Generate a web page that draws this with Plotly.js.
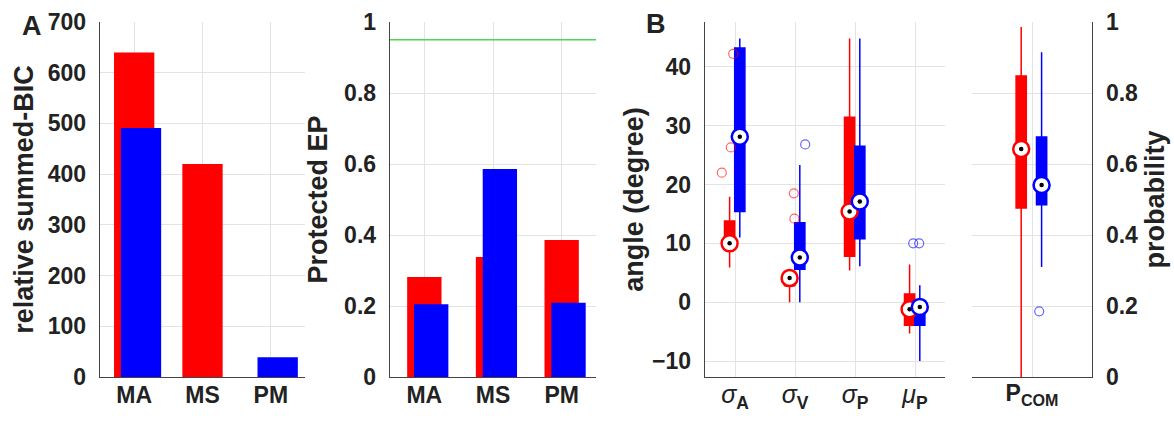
<!DOCTYPE html>
<html>
<head>
<meta charset="utf-8">
<script src="https://cdn.plot.ly/plotly-3.0.1.min.js"></script>
<style>html,body{margin:0;padding:0;background:#fff;}#chart{width:1174px;height:423px;}</style>
</head>
<body>
<div id="chart"></div>
<script>
// ---------- data ----------
const modelCats = ['MA', 'MS', 'PM'];
const bicRed = [640, 420, 0];
const bicBlue = [491, 0, 39];
const pepRed = [0.282, 0.338, 0.386];
const pepBlue = [0.205, 0.586, 0.209];
const pepThreshold = 0.95;

const angleLabels = ['<i>σ</i><sub><b>A</b></sub>', '<i>σ</i><sub><b>V</b></sub>', '<i>σ</i><sub><b>P</b></sub>', '<i>μ</i><sub><b>P</b></sub>'];
const angRedQ1 = [9.5, 2.8, 7.8, -3.9];
const angRedMed = [10.0, 4.1, 15.4, -1.2];
const angRedQ3 = [13.8, 5.2, 31.4, 1.4];
const angRedLo = [5.9, 0.0, 5.4, -5.3];
const angRedHi = [17.9, 5.5, 44.8, 6.4];
const angBlueQ1 = [15.4, 5.6, 10.8, -3.9];
const angBlueMed = [28.1, 7.6, 17.1, -0.8];
const angBlueQ3 = [43.2, 13.5, 26.5, 0.3];
const angBlueLo = [11.0, 0.0, 6.1, -10.0];
const angBlueHi = [44.8, 23.3, 44.8, 2.9];
// outliers: category index (0-based) and value
const angRedOutCat = [0, 0, 0, 1, 1];
const angRedOutVal = [22.0, 26.3, 42.2, 18.5, 14.2];
const angBlueOutCat = [1, 3, 3];
const angBlueOutVal = [26.8, 10.0, 10.0];

const comLabels = ['P<sub>COM</sub>'];
const comRedQ1 = [0.476], comRedMed = [0.642], comRedQ3 = [0.848], comRedLo = [0.0], comRedHi = [0.986];
const comBlueQ1 = [0.485], comBlueMed = [0.541], comBlueQ3 = [0.676], comBlueLo = [0.31], comBlueHi = [0.915];
const comBlueOutCat = [0];
const comBlueOutVal = [0.185];

// ---------- styling ----------
const RED = '#ff0000', BLUE = '#0000ff';
const FONT = 'Liberation Sans, Arial, Helvetica, sans-serif';
const TXT = '#222222';
const AX = '#444444';
const GRID = '#e3e3e3';
const redOff = -0.09, blueOff = 0.08;
// display jitter for outlier circles (MATLAB-like)
const angRedJit = [-0.13, 0.02, 0.06, 0.07, 0.08];
const angBlueJit = [0.09, -0.11, -0.01];
const comBlueJit = [-0.02];

const W = 1174, H = 423;
const yDom = [(H - 377) / H, (H - 22) / H];
const dom = (a, b) => [a / W, b / W];

const traces = [];

// Panel A1 bars
traces.push({type: 'bar', x: modelCats, y: bicRed, xaxis: 'x', yaxis: 'y', marker: {color: RED, line: {width: 0}}, width: 0.59, offset: -0.295, hoverinfo: 'skip'});
traces.push({type: 'bar', x: modelCats, y: bicBlue, xaxis: 'x', yaxis: 'y', marker: {color: BLUE, line: {width: 0}}, width: 0.59, offset: -0.195, hoverinfo: 'skip'});
// Panel A2 bars
traces.push({type: 'bar', x: modelCats, y: pepRed, xaxis: 'x2', yaxis: 'y2', marker: {color: RED, line: {width: 0}}, width: 0.5, offset: -0.25, hoverinfo: 'skip'});
traces.push({type: 'bar', x: modelCats, y: pepBlue, xaxis: 'x2', yaxis: 'y2', marker: {color: BLUE, line: {width: 0}}, width: 0.5, offset: -0.15, hoverinfo: 'skip'});

function boxSet(n, off, q1, med, q3, lo, hi, color, xa, ya, bw) {
  const xs = Array.from({length: n}, (_, i) => i + 1 + off);
  traces.push({type: 'box', x: xs, q1: q1, median: med, q3: q3, lowerfence: lo, upperfence: hi,
    xaxis: xa, yaxis: ya, width: bw, whiskerwidth: 0, fillcolor: color,
    line: {color: color, width: 1.5}, boxpoints: false, hoverinfo: 'skip'});
  return xs;
}
function medians(xs, med, color, xa, ya) {
  traces.push({type: 'scatter', mode: 'markers', x: xs, y: med, xaxis: xa, yaxis: ya,
    marker: {symbol: 'circle', size: 16, color: '#ffffff', line: {color: color, width: 2.5}}, hoverinfo: 'skip'});
  traces.push({type: 'scatter', mode: 'markers', x: xs, y: med, xaxis: xa, yaxis: ya,
    marker: {symbol: 'circle', size: 4.5, color: '#000000'}, hoverinfo: 'skip'});
}
function outliers(cat, val, off, jit, color, xa, ya) {
  const xs = cat.map((c, i) => c + 1 + off + jit[i]);
  traces.push({type: 'scatter', mode: 'markers', x: xs, y: val, xaxis: xa, yaxis: ya,
    marker: {symbol: 'circle-open', size: 9, color: color, opacity: 0.6, line: {width: 1.2}}, hoverinfo: 'skip'});
}

// Panel B1
const nA = angleLabels.length;
const xr1 = boxSet(nA, redOff, angRedQ1, angRedMed, angRedQ3, angRedLo, angRedHi, RED, 'x3', 'y3', 0.17);
const xb1 = boxSet(nA, blueOff, angBlueQ1, angBlueMed, angBlueQ3, angBlueLo, angBlueHi, BLUE, 'x3', 'y3', 0.17);
outliers(angRedOutCat, angRedOutVal, redOff, angRedJit, RED, 'x3', 'y3');
outliers(angBlueOutCat, angBlueOutVal, blueOff, angBlueJit, BLUE, 'x3', 'y3');
medians(xr1, angRedMed, RED, 'x3', 'y3');
medians(xb1, angBlueMed, BLUE, 'x3', 'y3');

// Panel B2
const xr2 = boxSet(1, redOff, comRedQ1, comRedMed, comRedQ3, comRedLo, comRedHi, RED, 'x4', 'y4', 0.085);
const xb2 = boxSet(1, blueOff, comBlueQ1, comBlueMed, comBlueQ3, comBlueLo, comBlueHi, BLUE, 'x4', 'y4', 0.085);
outliers(comBlueOutCat, comBlueOutVal, blueOff, comBlueJit, BLUE, 'x4', 'y4');
medians(xr2, comRedMed, RED, 'x4', 'y4');
medians(xb2, comBlueMed, BLUE, 'x4', 'y4');

const tickFont = {family: FONT, size: 23, color: TXT, weight: 'bold'};
const titleFont = {family: FONT, size: 27, color: TXT, weight: 'bold'};
const baseX = {showline: true, linecolor: AX, linewidth: 1.3, showgrid: true, gridcolor: GRID, gridwidth: 1,
  zeroline: false, ticks: '', tickfont: tickFont, ticklabelstandoff: -3, fixedrange: true};
const baseY = {showline: true, linecolor: AX, linewidth: 1.3, showgrid: true, gridcolor: GRID, gridwidth: 1,
  zeroline: false, ticks: '', tickfont: tickFont, ticklabelstandoff: 8, domain: yDom, fixedrange: true};

const layout = {
  width: W, height: H, margin: {l: 0, r: 0, t: 0, b: 0},
  paper_bgcolor: '#ffffff', plot_bgcolor: 'rgba(0,0,0,0)',
  showlegend: false, barmode: 'overlay', boxmode: 'overlay',
  xaxis: Object.assign({}, baseX, {domain: dom(100, 305), anchor: 'y', type: 'category', range: [-0.5, 2.5]}),
  yaxis: Object.assign({}, baseY, {anchor: 'x', range: [0, 700], tickvals: [0, 100, 200, 300, 400, 500, 600, 700],
    title: {text: 'relative summed-BIC', font: titleFont, standoff: 6}}),
  xaxis2: Object.assign({}, baseX, {domain: dom(390, 596), anchor: 'y2', type: 'category', range: [-0.5, 2.5]}),
  yaxis2: Object.assign({}, baseY, {anchor: 'x2', range: [0, 1], tickvals: [0, 0.2, 0.4, 0.6, 0.8, 1],
    ticktext: ['0', '0.2', '0.4', '0.6', '0.8', '1'],
    title: {text: 'Protected EP', font: titleFont, standoff: 8}}),
  xaxis3: Object.assign({}, baseX, {domain: dom(705, 945), anchor: 'y3', range: [0.5, 4.5],
    tickvals: [1, 2, 3, 4], ticktext: angleLabels, tickfont: {family: FONT, size: 25, color: TXT}, ticklabelstandoff: -5}),
  yaxis3: Object.assign({}, baseY, {anchor: 'x3', range: [-12.7, 47.6], tickvals: [-10, 0, 10, 20, 30, 40],
    title: {text: 'angle (degree)', font: titleFont, standoff: 0}}),
  xaxis4: Object.assign({}, baseX, {domain: dom(972, 1092), anchor: 'y4', range: [0.5, 1.5],
    tickvals: [1], ticktext: comLabels, ticklabelstandoff: -5}),
  yaxis4: Object.assign({}, baseY, {anchor: 'x4', side: 'right', range: [0, 1], tickvals: [0, 0.2, 0.4, 0.6, 0.8, 1],
    ticktext: ['0', '0.2', '0.4', '0.6', '0.8', '1'],
    title: {text: 'probability', font: titleFont, standoff: 8}}),
  shapes: [{type: 'line', xref: 'x2 domain', x0: 0, x1: 1, yref: 'y2', y0: pepThreshold, y1: pepThreshold,
    line: {color: '#4fd64f', width: 1.5}}],
  annotations: [
    {text: 'A', xref: 'paper', yref: 'paper', x: 32 / W, y: 1 - 26 / H, showarrow: false, xanchor: 'center', yanchor: 'middle',
      font: {family: FONT, size: 27, color: TXT, weight: 'bold'}},
    {text: 'B', xref: 'paper', yref: 'paper', x: 656 / W, y: 1 - 24 / H, showarrow: false, xanchor: 'center', yanchor: 'middle',
      font: {family: FONT, size: 27, color: TXT, weight: 'bold'}}
  ]
};

Plotly.newPlot('chart', traces, layout, {staticPlot: true, displayModeBar: false});
</script>
</body>
</html>
